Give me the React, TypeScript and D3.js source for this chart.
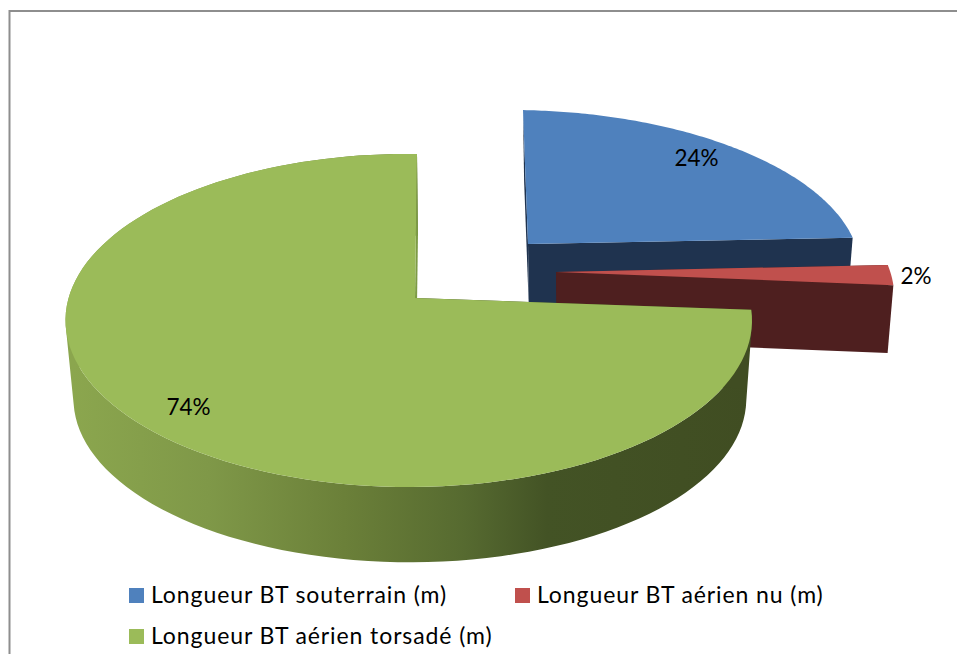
import React from "react";
import * as d3 from "d3";

const categories = ["Longueur BT souterrain (m)", "Longueur BT aérien nu (m)", "Longueur BT aérien torsadé (m)"];
const values = [24, 2, 74];
const labels = ["24%", "2%", "74%"];
const topColors = ["#4f81bd", "#c0504d", "#9bbb59"];
const sideColors = ["#1f334f", "#4e1f1f", "url(#greenSide)"];
const apexX = [528, 556, 415];
const apexY = [244, 272, 298];
const radiusX = [334, 341, 340];
const radiusY = [152, 163, 163.5];
const skews = [-5, 0, 2];
const tilts = [3, 3, 1.5];
const depths = [68, 68, 79];
const labelX = [696.5, 916, 188.5];
const labelY = [166, 284, 415];
const legendX = [129, 515, 129];
const legendY = [588, 588, 629];

const K = 0.135;
const M = 0.0173;
const angles = d3.pie<number>().sort(null)(values);

function proj(i: number, t: number, r = 1, lower = false): [number, number] {
  const u = Math.sin(t), v = Math.cos(t);
  const w = 1 + K * v + M * u;
  const s = lower ? 0.98 : 1;
  const x = apexX[i] + (lower ? 1 : 0) + s * r * (radiusX[i] * u / w + skews[i] * v);
  const y = apexY[i] + (lower ? depths[i] : 0) + r * tilts[i] * u - s * r * radiusY[i] * v / w;
  return [x, y];
}

const ts = (a: number, b: number) => d3.range(0, 121).map((k) => a + ((b - a) * k) / 120);
const line = d3.line<[number, number]>();

// Extruded wall: every quad wound the same way so their union fills without seams.
function wall(top: [number, number][], rim: [number, number][]) {
  return top
    .slice(1)
    .map((p, k) => {
      const quad: [number, number][] = [top[k], p, rim[k + 1], rim[k]];
      const area = d3.polygonArea(quad);
      return line(area < 0 ? quad.reverse() : quad) + "Z";
    })
    .join("");
}

const gradStops: [number, string][] = [
  [0, "#8ba64e"], [0.2, "#7f9848"], [0.4, "#6b8039"], [0.58, "#566a30"], [0.7, "#435325"], [1, "#404d22"],
];

export default function App() {
  return (
    <svg width={957} height={654} style={{ position: "absolute", left: 0, top: 0, background: "#fff" }}>
      <defs>
        <linearGradient id="greenSide" gradientUnits="userSpaceOnUse" x1={73} x2={750} y1={0} y2={0}>
          {gradStops.map(([o, c]) => <stop key={o} offset={o} stopColor={c} />)}
        </linearGradient>
      </defs>
      <path d="M9.5,654V11H957" fill="none" stroke="#8e8e8e" strokeWidth={2} />
      {angles.map((d, i) => {
        const arcT = ts(d.startAngle, d.endAngle);
        const top = arcT.map((t) => proj(i, t));
        const rim = arcT.map((t) => proj(i, t, 1, true));
        const apex = proj(i, 0, 0);
        const apexLow = proj(i, 0, 0, true);
        const startRim = top[0];
        const startLow = rim[0];
        const endRim = top[top.length - 1];
        const endLow = rim[rim.length - 1];
        const sideColor = sideColors[i];
        return (
          <g key={categories[i]}>
            {i === 2 ? (
              <>
                <path d={wall(top, rim)} fill={sideColor} fillRule="nonzero" />
                <path d={line([apex, endRim, endLow, apexLow]) + "Z"} fill="#7d9b45" />
                <path d={line([apex, startRim, startLow, apexLow]) + "Z"} fill="#404d22" />
              </>
            ) : (
              <>
                <path d={line([apex, startRim, startLow, apexLow]) + "Z"} fill={sideColor} />
                <path d={line([apex, endRim, endLow, apexLow]) + "Z"} fill={sideColor} />
              </>
            )}
            <path d={line([apex, ...top]) + "Z"} fill={topColors[i]} />
          </g>
        );
      })}
      {labels.map((l, i) => (
        <text key={l} x={labelX[i]} y={labelY[i]} textAnchor="middle" fontFamily="Lato" fontSize={22.5} fill="#000">{l}</text>
      ))}
      {categories.map((c, i) => (
        <g key={c}>
          <rect x={legendX[i]} y={legendY[i]} width={15} height={15} fill={topColors[i]} />
          <text x={legendX[i] + 22} y={legendY[i] + 15} fontFamily="Lato" fontSize={23} letterSpacing={0.9} fill="#000">{c}</text>
        </g>
      ))}
    </svg>
  );
}
